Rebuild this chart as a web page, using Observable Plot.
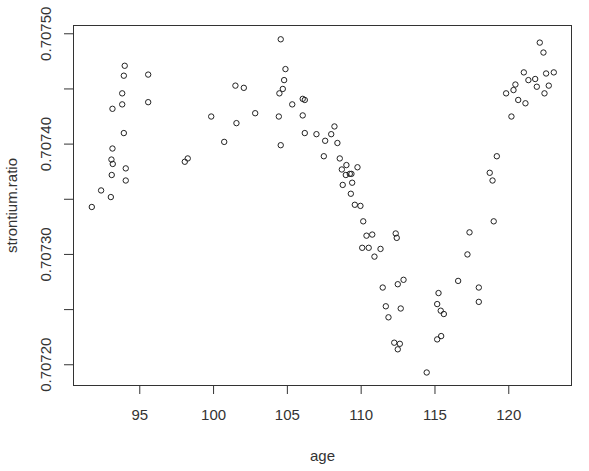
<!DOCTYPE html>
<html><head><meta charset="utf-8">
<script src="https://cdn.jsdelivr.net/npm/d3@7"></script>
<script src="https://cdn.jsdelivr.net/npm/@observablehq/plot@0.6"></script>
<style>body{margin:0;background:#fff}</style>
</head><body><div id="chart"></div>
<script>
const age = [93.98,93.92,95.57,93.81,93.15,93.81,95.57,93.92,93.15,93.08,93.17,94.05,93.10,94.05,92.38,93.04,91.75,98.05,98.25,99.84,100.72,101.48,102.05,101.55,
104.55,104.87,104.78,104.69,104.46,105.33,106.04,106.18,102.82,104.42,106.04,106.18,106.97,108.19,107.97,107.56,108.39,104.55,107.47,108.55,109.00,109.75,108.69,108.96,109.23,109.34,108.75,109.39,109.30,109.57,109.95,110.14,
110.36,110.75,112.34,112.41,110.07,110.51,111.31,110.90,112.87,112.48,111.46,111.67,112.68,111.85,112.24,112.62,112.48,
118.98,117.34,117.20,116.57,117.97,117.97,115.24,115.15,115.39,115.60,115.15,115.42,114.44,
122.10,122.35,121.02,121.33,121.79,121.90,122.53,123.05,122.71,122.42,120.45,120.32,119.82,120.64,121.13,120.18,119.19,118.71,118.90];
const strontiumRatio = [0.707471,0.707462,0.707463,0.707446,0.707432,0.707436,0.707438,0.707410,0.707396,0.707386,0.707382,0.707378,0.707372,0.707367,0.707358,0.707352,0.707343,0.707384,0.707387,0.707425,0.707402,0.707453,0.707451,0.707419,
0.707495,0.707468,0.707458,0.707450,0.707446,0.707436,0.707441,0.707440,0.707428,0.707425,0.707426,0.707410,0.707409,0.707416,0.707409,0.707403,0.707401,0.707399,0.707389,0.707387,0.707381,0.707379,0.707377,0.707372,0.707373,0.707373,0.707363,0.707365,0.707355,0.707345,0.707344,0.707330,
0.707317,0.707318,0.707319,0.707315,0.707306,0.707306,0.707305,0.707298,0.707277,0.707273,0.707270,0.707253,0.707251,0.707243,0.707220,0.707219,0.707214,
0.707330,0.707320,0.707300,0.707276,0.707270,0.707257,0.707265,0.707255,0.707249,0.707246,0.707223,0.707226,0.707193,
0.707492,0.707483,0.707465,0.707458,0.707459,0.707452,0.707464,0.707465,0.707453,0.707446,0.707454,0.707449,0.707446,0.707440,0.707437,0.707425,0.707389,0.707374,0.707367];
const xTicks = [95,100,105,110,115,120];
const yTicks = [0.7072,0.70725,0.7073,0.70735,0.7074,0.70745,0.7075];
const yLabels = [0.7072,0.7073,0.7074,0.7075];

const data = age.map((a,i)=>({age:a, ratio:strontiumRatio[i]}));
const font = "Liberation Sans, Arial, sans-serif";
const ink = "#333";

const chart = Plot.plot({
  width: 589, height: 471,
  marginLeft: 73, marginRight: 18, marginTop: 25, marginBottom: 86,
  style: {fontFamily: font, fontSize: "15px", color: ink, background: "#fff"},
  x: {domain: [90.51, 124.25]},
  y: {domain: [0.7071812, 0.7075075]},
  marks: [
    Plot.axisX({ticks: xTicks, tickSize: 9, tickFormat: () => "", label: null, stroke: ink}),
    Plot.axisY({ticks: yTicks, tickSize: 9, tickFormat: () => "", label: null, stroke: ink}),
    Plot.text(xTicks, {x: d => d, frameAnchor: "bottom", dy: 30, lineAnchor: "middle", text: d => String(d), fill: ink, fontSize: 15}),
    Plot.text(yLabels, {y: d => d, frameAnchor: "left", dx: -27, rotate: -90, textAnchor: "middle", lineAnchor: "middle", text: d => d.toFixed(5), fill: ink, fontSize: 15}),
    Plot.text(["age"], {frameAnchor: "bottom", dy: 71, lineAnchor: "middle", text: d => d, fill: ink, fontSize: 15}),
    Plot.text(["strontium.ratio"], {frameAnchor: "left", dx: -61, rotate: -90, textAnchor: "middle", lineAnchor: "middle", text: d => d, fill: ink, fontSize: 15}),
    Plot.frame({stroke: ink}),
    Plot.dot(data, {x: "age", y: "ratio", r: 2.7, stroke: "#222", strokeWidth: 1, fill: "none"})
  ]
});
document.getElementById("chart").appendChild(chart);
</script></body></html>
